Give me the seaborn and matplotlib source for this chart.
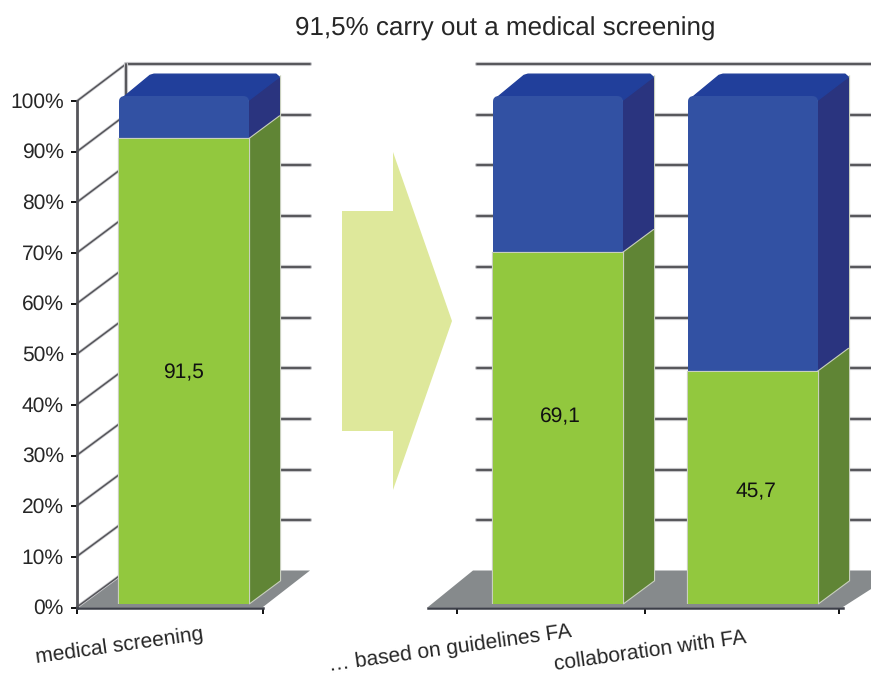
import matplotlib
matplotlib.use("Agg")
import matplotlib.pyplot as plt
import matplotlib.patheffects as pe
from matplotlib.patches import Polygon, FancyBboxPatch
from matplotlib.transforms import ScaledTranslation
import pandas as pd
import seaborn as sns

# ---- data ----
left_categories = ["medical screening"]
left_values = [91.5]
right_categories = ["… based on guidelines FA", "collaboration with FA"]
right_values = [69.1, 45.7]
totals_left = [100]
totals_right = [100, 100]
value_labels_left = ["91,5"]
value_labels_right = ["69,1", "45,7"]
y_ticks = [0, 10, 20, 30, 40, 50, 60, 70, 80, 90, 100]
y_tick_labels = ["0%", "10%", "20%", "30%", "40%", "50%", "60%", "70%", "80%", "90%", "100%"]
title = "91,5% carry out a medical screening"

# ---- styles ----
GREEN, GREEN_SIDE = "#92C83E", "#608535"
BLUE, BLUE_SIDE, BLUE_TOP = "#3251A3", "#2A347F", "#213F9B"
FLOOR, GRID, ARROW = "#868A8C", "#55555A", "#DEE89B"
TEXT = "#262626"
W, H, DPI = 871, 675, 100

sns.set_theme(style="white")
plt.rcParams["font.family"] = ["Liberation Sans", "DejaVu Sans"]
plt.rcParams["text.hinting"] = "none"
plt.rcParams["text.hinting_factor"] = 1
fig = plt.figure(figsize=(W / DPI, H / DPI), dpi=DPI)


def px_axes(x0, x1, ytop, ybot, **kw):
    return fig.add_axes([x0 / W, 1 - ybot / H, (x1 - x0) / W, (ybot - ytop) / H], **kw)


# background layer in pixel units: walls, floor, arrow
bg = px_axes(0, W, 0, H)
bg.set_xlim(0, W)
bg.set_ylim(H, 0)
bg.axis("off")
halo = [pe.withStroke(linewidth=3.0, foreground="#C4C4C7")]
for floor in ([(77, 607), (126, 570.5), (310, 570.5), (263, 607)],
              [(428, 607), (473, 570.5), (900, 570.5), (843, 607)]):
    bg.add_patch(Polygon(floor, closed=True, fc=FLOOR, ec="none", zorder=1))
for v in y_ticks:
    yb = 571 - 5.07 * v
    if v > 0:
        bg.plot([126, 310], [yb, yb], color=GRID, lw=1.4, path_effects=halo, zorder=2)
        bg.plot([477, W], [yb, yb], color=GRID, lw=1.4, path_effects=halo, zorder=2)
    bg.plot([77, 126], [607 - 5.06 * v, yb], color=GRID, lw=1.1,
            path_effects=[pe.withStroke(linewidth=2.2, foreground="#CFCFD2")], zorder=2)
bg.plot([126, 126], [64, 571], color=GRID, lw=1.4, path_effects=halo, zorder=2)
bg.add_patch(Polygon([(342, 211), (393, 211), (393, 152), (452, 321), (393, 490),
                      (393, 431), (342, 431)], closed=True, fc=ARROW, ec="none", zorder=2))
bg.text(505.5, 28.5, title, ha="center", va="center", fontsize=18.75, color=TEXT)

# axis frames with the real ticks
for x0, x1, ticks, show_y in ((77, 263, [77, 263], True), (428, 843, [457, 645, 839], False)):
    fr = px_axes(x0, x1, 101, 607.5)
    fr.patch.set_visible(False)
    fr.set_xlim(x0, x1)
    fr.set_ylim(0, 100)
    for s in ("top", "right"):
        fr.spines[s].set_visible(False)
    fr.spines["bottom"].set_color("#3C3F48")
    fr.spines["bottom"].set_linewidth(1.8)
    fr.spines["left"].set_color(GRID)
    fr.spines["left"].set_linewidth(2.0)
    fr.spines["left"].set_visible(show_y)
    fr.set_xticks(ticks)
    fr.set_xticklabels([])
    fr.tick_params(axis="x", bottom=True, length=4, width=1.4, color="#111111", direction="out")
    if show_y:
        fr.set_yticks(y_ticks)
        fr.set_yticklabels(y_tick_labels, fontsize=15.1, color=TEXT)
        fr.tick_params(axis="y", left=True, length=4, width=1.4, color="#111111", pad=5.5)
        for lab in fr.get_yticklabels():
            lab.set_transform(lab.get_transform() + ScaledTranslation(0, 1 / DPI, fig.dpi_scale_trans))
    else:
        fr.set_yticks([])


def stacked_panel(x0, x1, cats, vals, totals, labels, label_shift, text_offsets):
    ax = px_axes(x0, x1, 96, 603.5)
    ax.patch.set_visible(False)
    sns.barplot(data=pd.DataFrame({"c": cats, "v": totals}), x="c", y="v", color=BLUE,
                saturation=1, width=2 / 3, ax=ax, zorder=5, edgecolor="none", linewidth=0)
    n_back = len(ax.patches)
    sns.barplot(data=pd.DataFrame({"c": cats, "v": vals}), x="c", y="v", color=GREEN,
                saturation=1, width=2 / 3, ax=ax, zorder=6, edgecolor="none", linewidth=0)
    ax.set_ylim(0, 100)
    ax.set_xlim(-0.5, len(cats) - 0.5)
    ax.set(xlabel="", ylabel="")
    ax.set_yticks([])
    for s in ax.spines.values():
        s.set_visible(False)

    ux, uy = 195.0, 5.075      # pixels per category / per percent
    dx, dy = 31 / ux, 23 / uy  # depth of the 3D boxes
    cx, cy = 4 / ux, 4 / uy    # corner cut
    soft = [pe.withStroke(linewidth=1.6, foreground="#C9D0BE")]
    backs, fronts = ax.patches[:n_back], ax.patches[n_back:]
    for b, g in zip(backs, fronts):
        xa, xb = g.get_x(), g.get_x() + g.get_width()
        h, top = g.get_height(), b.get_height()
        box = FancyBboxPatch((xa, -5), xb - xa, top + 5, boxstyle="round,pad=0,rounding_size=0.03",
                             mutation_aspect=ux / uy, transform=ax.transData)
        b.set_clip_path(box)
        g.set_path_effects(soft)
        ax.add_patch(Polygon([(xb, 0), (xb + dx, dy), (xb + dx, h + dy), (xb, h)], closed=True,
                             fc=GREEN_SIDE, ec="none", zorder=5, clip_on=False, path_effects=soft))
        ax.add_patch(Polygon([(xb, h), (xb + dx, h + dy), (xb + dx, top + dy - cy), (xb, top)],
                             closed=True, fc=BLUE_SIDE, ec="none", zorder=4.5, clip_on=False,
                             path_effects=soft))
        ax.add_patch(Polygon([(xa + cx * 0.3, top - cy), (xa + dx, top + dy - cy * 0.6),
                              (xa + dx + cx, top + dy - cy * 0.3), (xb + dx - cx, top + dy - cy * 0.3),
                              (xb + dx - cx * 0.2, top + dy - cy), (xb, top - cy), (xa + cx, top - cy)],
                             closed=True, fc=BLUE_TOP, ec=BLUE_TOP, lw=1.0, joinstyle="round",
                             zorder=4.6, clip_on=False))
    for i, (v, t, off) in enumerate(zip(vals, labels, text_offsets)):
        ax.annotate(t, (i, v / 2), xytext=off, textcoords="offset pixels", ha="center",
                    va="center", fontsize=15.2, color="#111111", zorder=8)

    ax.tick_params(axis="x", bottom=False, length=0, pad=0)
    for lab, (sx, sy) in zip(ax.get_xticklabels(), label_shift):
        lab.set_rotation(8)
        lab.set_rotation_mode("anchor")
        lab.set_ha("center")
        lab.set_va("center")
        lab.set_fontsize(15.0)
        lab.set_color(TEXT)
        lab.set_transform(lab.get_transform() + ScaledTranslation(sx / DPI, sy / DPI, fig.dpi_scale_trans))
    return ax


stacked_panel(86.5, 281.5, left_categories, left_values, totals_left, value_labels_left,
              [(-65, -42)], [(-1, -1.5)])
stacked_panel(460.5, 850.5, right_categories, right_values, totals_right, value_labels_right,
              [(-108, -45), (-103, -47)], [(2, 11), (3, -4.5)])

fig.savefig("out.png", dpi=DPI)
